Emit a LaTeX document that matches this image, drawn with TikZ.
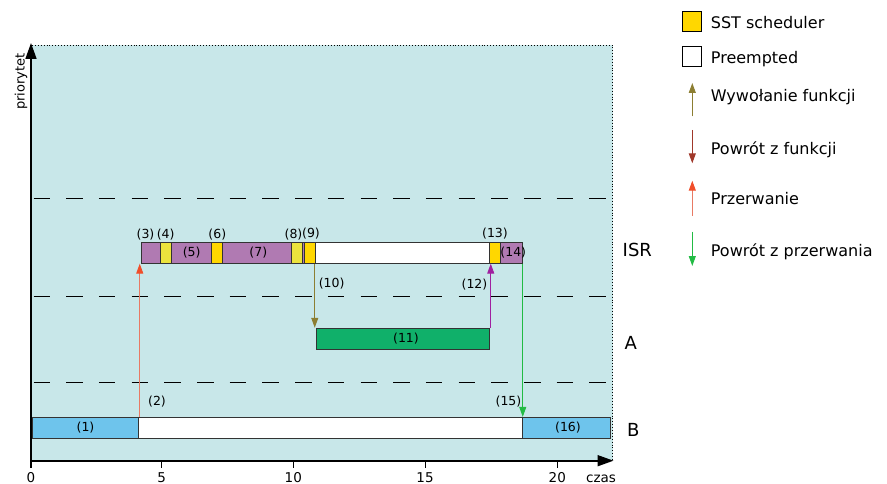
\documentclass[tikz,border=0pt]{standalone}
\usepackage{fontspec}
\setmainfont{DejaVu Sans}
\usetikzlibrary{arrows.meta}
\definecolor{bgc}{HTML}{C8E7E9}
\definecolor{bluec}{HTML}{6EC4EC}
\definecolor{purplec}{HTML}{B07AB2}
\definecolor{goldc}{HTML}{FFD700}
\definecolor{lyellowc}{HTML}{EBE33D}
\definecolor{greenc}{HTML}{10B06A}
\definecolor{olivec}{HTML}{8C7E32}
\definecolor{brownc}{HTML}{A0382A}
\definecolor{salmonc}{HTML}{E87A64}
\definecolor{redc}{HTML}{F04E2A}
\definecolor{greenarr}{HTML}{22BB44}
\definecolor{purplearr}{HTML}{A020A0}
\tikzset{
  barbox/.style={draw=black!80, line width=0.9pt, minimum height=21pt, inner sep=0pt, anchor=center},
  lbl/.style={font=\fontsize{12.5}{14}\selectfont, inner sep=0pt},
  ticklbl/.style={font=\fontsize{13.5}{16}\selectfont, inner sep=0pt, anchor=base},
  rowlbl/.style={font=\fontsize{18}{21}\selectfont, inner sep=0pt, anchor=base west},
  legtxt/.style={font=\fontsize{16}{19}\selectfont, inner sep=0pt, anchor=base west},
  legsq/.style={draw=black, line width=0.9pt, minimum width=18.3pt, minimum height=19.3pt, inner sep=0pt},
  axisline/.style={line width=1.7pt, black},
  dashline/.style={line width=1pt, black, dash pattern=on 16.5pt off 16.2pt},
  arrline/.style={line width=1pt},
  tipsmall/.style={-{Triangle[length=10pt,width=7pt]}},
  tipred/.style={-{Triangle[length=10pt,width=7pt,color=redc,fill=redc]}},
}
\begin{document}
\begin{tikzpicture}[x=1pt,y=-1pt]
\useasboundingbox (0,0) rectangle (887,484);
% background
\fill[bgc] (32,45) rectangle (612.6,460);
\draw[line width=0.9pt, dotted] (32,45) -- (612.6,45) -- (612.6,460);
% dashed separators
\draw[dashline] (33.5,198.3) -- (612,198.3);
\draw[dashline] (33.5,296) -- (612,296);
\draw[dashline] (33.5,382.3) -- (612,382.3);
% axes
\coordinate (ybot) at (31,467.5);
\coordinate (ytop) at (31,43);
\coordinate (xstart) at (31,460.7);
\coordinate (xend) at (613.5,460.7);
\draw[axisline, -{Triangle[length=16pt,width=11pt]}] (ybot) -- (ytop);
\draw[axisline, -{Triangle[length=16pt,width=11pt]}] (xstart) -- (xend);
\foreach \xx/\lab/\nm in {31/0/t0, 161.7/5/t5, 293.3/10/t10, 425/15/t15, 557.3/20/t20}{
  \draw[line width=1pt] (\xx,460.7) -- (\xx,467.5);
  \node[ticklbl] (\nm) at (\xx,482) {\lab};
}
\node[ticklbl] (czas) at (601,482) {czas};
\node[font=\fontsize{13}{15}\selectfont, inner sep=0pt, rotate=90, anchor=base] (prio) at (24.5,81.5) {priorytet};
% row labels
\node[rowlbl] (isr) at (622.5,256.7) {ISR};
\node[rowlbl] (rowa) at (624.5,349.3) {A};
\node[rowlbl] (rowb) at (627,436) {B};
% B bar
\node[barbox, fill=bluec, minimum width=105.6pt] (b1) at (85.5,427.8) {};
\node[barbox, fill=white, minimum width=383.7pt] (bw) at (330.15,427.8) {};
\node[barbox, fill=bluec, minimum width=88.3pt] (b16) at (566.15,427.8) {};
% ISR bar
\node[barbox, fill=purplec, minimum width=19.7pt] (p3) at (150.85,252.7) {};
\node[barbox, fill=lyellowc, minimum width=10.6pt] (y4) at (166,252.7) {};
\node[barbox, fill=purplec, minimum width=40.4pt] (p5) at (191.5,252.7) {};
\node[barbox, fill=goldc, minimum width=11pt] (y6) at (217.2,252.7) {};
\node[barbox, fill=purplec, minimum width=69pt] (p7) at (257.2,252.7) {};
\node[barbox, fill=lyellowc, minimum width=10.6pt] (y8) at (297,252.7) {};
\node[barbox, fill=purplec, minimum width=1.7pt] (pg) at (303.15,252.7) {};
\node[barbox, fill=goldc, minimum width=11.7pt] (y9) at (309.85,252.7) {};
\node[barbox, fill=white, minimum width=173.3pt] (iw) at (402.35,252.7) {};
\node[barbox, fill=goldc, minimum width=11pt] (y13) at (494.5,252.7) {};
\node[barbox, fill=purplec, minimum width=22.3pt] (p14) at (511.15,252.7) {};
% A bar
\node[barbox, fill=greenc, minimum width=172.3pt] (a11) at (402.85,338.7) {};
% bar labels
\node[lbl] (l1) at (85.5,428) {(1)};
\node[lbl] (l2) at (157,402) {(2)};
\node[lbl] (l3) at (145.5,234.5) {(3)};
\node[lbl] (l4) at (165.7,234.5) {(4)};
\node[lbl] (l5) at (191.7,252.7) {(5)};
\node[lbl] (l6) at (217.3,234.5) {(6)};
\node[lbl] (l7) at (258.3,252.7) {(7)};
\node[lbl] (l8) at (293.5,234.5) {(8)};
\node[lbl] (l9) at (311,233.5) {(9)};
\node[lbl] (l10) at (331.7,283.3) {(10)};
\node[lbl] (l11) at (406,339) {(11)};
\node[lbl] (l12) at (474.5,285) {(12)};
\node[lbl] (l13) at (495,233.5) {(13)};
\node[lbl] (l14) at (513.3,252.7) {(14)};
\node[lbl] (l15) at (508.5,402) {(15)};
\node[lbl] (l16) at (568,428) {(16)};
% transitions
\draw[arrline, salmonc, tipred] ([xshift=1pt]b1.north east) -- ([xshift=1pt]b1.north east |- p3.south);
\draw[arrline, olivec, tipsmall] ([xshift=-1.4pt]y9.south east) -- ([xshift=-1.4pt]y9.south east |- a11.north);
\draw[arrline, purplearr, tipsmall] ([xshift=1.3pt]a11.north east) -- ([xshift=1.3pt]a11.north east |- y13.south);
\draw[arrline, greenarr, tipsmall] (p14.south east) -- (p14.south east |- b16.north);
% legend
\node[legsq, fill=goldc] (lsq1) at (691.85,21.35) {};
\node[legtxt] (lt1) at (710.7,29) {SST scheduler};
\node[legsq, fill=white] (lsq2) at (691.85,56.35) {};
\node[legtxt] (lt2) at (710.7,63.3) {Preempted};
\coordinate (la1s) at (692.3,116.5);
\coordinate (la1e) at (692.3,83);
\draw[arrline, olivec, tipsmall] (la1s) -- (la1e);
\node[legtxt] (lt3) at (710.7,101.7) {Wywołanie funkcji};
\coordinate (la2s) at (692.3,130);
\coordinate (la2e) at (692.3,163.3);
\draw[arrline, brownc, tipsmall] (la2s) -- (la2e);
\node[legtxt] (lt4) at (710.7,155) {Powrót z funkcji};
\coordinate (la3s) at (692.3,216);
\coordinate (la3e) at (692.3,180.7);
\draw[arrline, salmonc, tipred] (la3s) -- (la3e);
\node[legtxt] (lt5) at (710.7,205) {Przerwanie};
\coordinate (la4s) at (692.3,231.7);
\coordinate (la4e) at (692.3,266);
\draw[arrline, greenarr, tipsmall] (la4s) -- (la4e);
\node[legtxt] (lt6) at (710.7,256) {Powrót z przerwania};
\end{tikzpicture}
\end{document}
